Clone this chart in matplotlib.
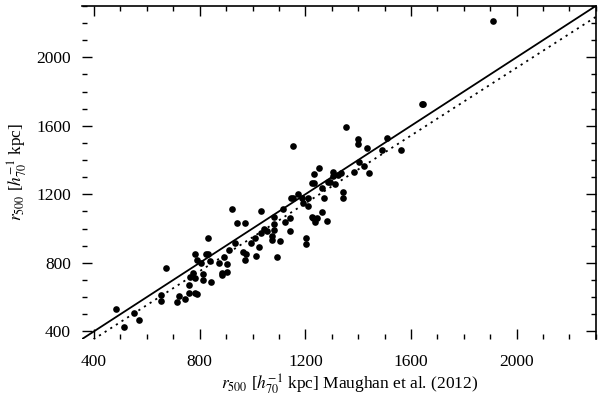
import numpy as np
import matplotlib
matplotlib.use("Agg")
import matplotlib.pyplot as plt
from matplotlib.ticker import MultipleLocator

plt.rcParams['font.family'] = ['Liberation Serif', 'DejaVu Serif']
plt.rcParams['mathtext.fontset'] = 'stix'

# r500 from Maughan et al. (2012) vs our r500
r500_maughan = [482, 513, 551, 571, 652, 652, 672, 713, 723, 743,
                761, 761, 763, 773, 783, 782, 791, 782, 791, 811,
                811, 804, 824, 831, 831, 839, 842, 873, 883, 883,
                892, 902, 902, 912, 922, 934, 942, 973, 965, 975,
                973, 993, 1010, 1013, 1023, 1033, 1033, 1043, 1054, 1072,
                1072, 1081, 1081, 1081, 1094, 1104, 1114, 1124, 1142, 1142,
                1152, 1144, 1154, 1173, 1186, 1192, 1211, 1211, 1202, 1202,
                1224, 1236, 1230, 1243, 1262, 1283, 1224, 1233, 1233, 1253,
                1262, 1270, 1287, 1293, 1303, 1303, 1312, 1325, 1334, 1341,
                1341, 1354, 1384, 1401, 1401, 1404, 1424, 1432, 1442, 1492,
                1510, 1563, 1640, 1646, 1910]
r500_ours = [531, 423, 508, 463, 613, 575, 772, 570, 605, 589,
             671, 625, 718, 741, 712, 625, 620, 853, 815, 737,
             702, 796, 849, 854, 946, 809, 689, 796, 741, 726,
             833, 790, 745, 874, 1112, 913, 1034, 1034, 862, 849,
             819, 917, 946, 839, 894, 1102, 975, 999, 985, 956,
             932, 1067, 1024, 989, 835, 926, 1116, 1037, 1063, 985,
             1480, 1176, 1176, 1203, 1180, 1151, 1176, 1131, 942, 911,
             1067, 1040, 1059, 1063, 1096, 1043, 1268, 1268, 1320, 1355,
             1239, 1180, 1274, 1274, 1332, 1306, 1258, 1312, 1326, 1215,
             1180, 1593, 1332, 1521, 1496, 1390, 1365, 1472, 1326, 1457,
             1527, 1457, 1726, 1726, 2211]

# best-fit relation (dotted)
fit_slope = 0.99
fit_intercept = -41.0

lim = (355, 2300)

fig = plt.figure(figsize=(6.0, 3.96), dpi=100)
ax = fig.add_axes([0.137, 0.144, 0.856, 0.841])

ax.plot(r500_maughan, r500_ours, 'o', color='black', markersize=4.8,
        markeredgewidth=0, zorder=3)

xx = np.array(lim)
ax.plot(xx, xx, '-', color='black', lw=1.3)
ax.plot(xx, fit_slope * xx + fit_intercept, color='black', lw=1.3,
        linestyle=(0, (1.2, 2.5)))

ax.set_xlim(lim)
ax.set_ylim(lim)

ax.xaxis.set_major_locator(MultipleLocator(400))
ax.xaxis.set_minor_locator(MultipleLocator(100))
ax.yaxis.set_major_locator(MultipleLocator(400))
ax.yaxis.set_minor_locator(MultipleLocator(100))

ax.spines['left'].set_visible(False)
ax.spines['bottom'].set_visible(False)
for s in ['top', 'right']:
    ax.spines[s].set_linewidth(1.2)

ax.tick_params(which='both', direction='in', top=True, right=True,
               labelsize=12.5, width=1.0)
ax.tick_params(which='major', length=7)
ax.tick_params(which='minor', length=3.5)
ax.tick_params(axis='x', pad=11)
ax.tick_params(axis='y', pad=8)

ax.set_xlabel(r'$r_{500}$ [$h_{70}^{-1}$ kpc] Maughan et al. (2012)', fontsize=12.5)
ax.xaxis.set_label_coords(0.52, -0.1, transform=ax.transAxes)
ax.set_ylabel(r'$r_{500}$ [$h_{70}^{-1}$ kpc]', fontsize=12.5, labelpad=5)

fig.savefig('out.png', dpi=100)
